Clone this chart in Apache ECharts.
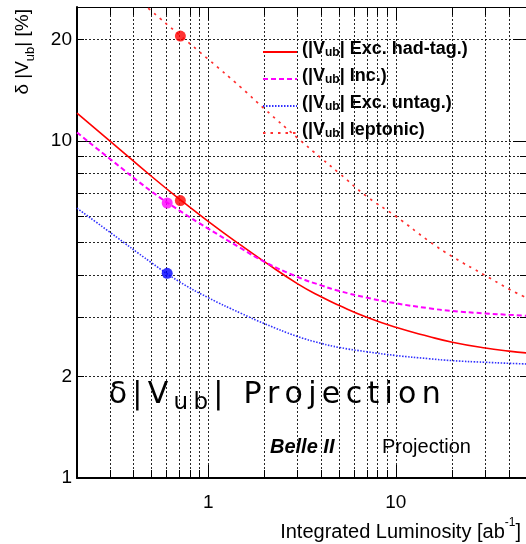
<!DOCTYPE html>
<html>
<head>
<meta charset="utf-8">
<script src="https://cdn.jsdelivr.net/npm/echarts@6/dist/echarts.min.js"></script>
<style>
  html, body { margin: 0; padding: 0; background: #fff; }
  #chart { width: 526px; height: 544px; }
</style>
</head>
<body>
<div id="chart"></div>
<script>
// luminosity points (ab^-1) where the projection curves were read
var lumi = [0.2, 0.3, 0.5, 0.7, 1, 1.5, 2, 3, 4, 5, 7, 10, 15, 20, 30, 40, 50];
var hadTag = [12.1, 10.0, 7.85, 6.74, 5.78, 4.9, 4.38, 3.77, 3.45, 3.25, 3.0, 2.80, 2.63, 2.53, 2.43, 2.38, 2.35];
var inclusive = [10.6, 8.85, 7.08, 6.23, 5.5, 4.8, 4.38, 3.95, 3.73, 3.59, 3.43, 3.30, 3.19, 3.13, 3.08, 3.05, 3.03];
var untagged = [6.32, 5.36, 4.35, 3.83, 3.43, 3.08, 2.87, 2.63, 2.51, 2.44, 2.37, 2.31, 2.26, 2.23, 2.205, 2.19, 2.18];
var lumiLep = [0.45, 0.5, 0.7, 1, 1.5, 2, 3, 4, 5, 7, 10, 15, 20, 30, 40, 50];
var leptonic = [25.7, 24.3, 20.7, 17.5, 14.4, 12.45, 10.2, 8.9, 8.02, 6.85, 5.98, 5.05, 4.54, 3.99, 3.64, 3.42];

// Belle measurements: had-tag, inclusive, untagged, leptonic
var belleLumi = [0.711, 0.605, 0.605, 0.711];
var belleVal = [6.66, 6.55, 4.05, 20.5];

// ticks / grid
var xTicks = [0.3, 0.4, 0.5, 0.6, 0.7, 0.8, 0.9, 1, 2, 3, 4, 5, 6, 7, 8, 9, 10, 20, 30, 40];
var xMajor = [1, 10];
var yTicks = [2, 3, 4, 5, 6, 7, 8, 9, 10, 20];
var yMajorLeft = [10];
var yMajorRight = [10, 20];
var xLabels = [1, 10];
var yLabels = [1, 2, 10, 20];

var FONT = 'Liberation Sans';

function pairs(xs, ys) {
  return xs.map(function (x, i) { return [x, ys[i]]; });
}

// wide letter spacing for the big label: one rich token per character
function spaced(str, style) {
  return str.split('').map(function (ch) { return '{' + style + '|' + ch + '}'; }).join('');
}

function xAx(pos, ticks, len, extra) {
  return Object.assign({
    type: 'log', logBase: 10, min: 0.2, max: 50, position: pos,
    axisLine: { show: false, onZero: false },
    axisTick: { show: true, inside: true, length: len, customValues: ticks, lineStyle: { color: '#000', width: 1 } },
    axisLabel: { show: false },
    splitLine: { show: false }
  }, extra || {});
}
function yAx(pos, ticks, len, extra) {
  return Object.assign({
    type: 'log', logBase: 10, min: 1, max: 25, position: pos,
    axisLine: { show: false, onZero: false },
    axisTick: { show: true, inside: true, length: len, customValues: ticks, lineStyle: { color: '#000', width: 1 } },
    axisLabel: { show: false },
    splitLine: { show: false }
  }, extra || {});
}

var gridLine = { show: true, lineStyle: { color: '#000', width: 1, type: [2, 2], opacity: 0.85 } };

var legendText = {
  had: '(|V{sub|ub}| Exc. had-tag.)',
  inc: '(|V{sub|ub}| Inc.)',
  untag: '(|V{sub|ub}| Exc. untag.)',
  lep: '(|V{sub|ub}| leptonic)'
};

var BIG = 'DejaVu Sans';
var bigStyle = { fontFamily: BIG, fontSize: 30, fill: '#000', lineHeight: 40, padding: [0, 2.65, 0, 2.65] };
var bigSub = { fontFamily: BIG, fontSize: 23, fill: '#000', lineHeight: 16, verticalAlign: 'bottom', padding: [0, 2.65, 0, 2.65] };

var chart = echarts.init(document.getElementById('chart'));
chart.setOption({
  animation: false,
  grid: { left: 77, top: 7, width: 450, height: 471, outerBoundsMode: 'none' },
  xAxis: [
    xAx('bottom', xTicks, 8, {
      axisLine: { show: true, onZero: false, lineStyle: { color: '#000', width: 2 } },
      axisLabel: { show: true, customValues: xLabels, fontSize: 19, color: '#000', fontFamily: FONT, margin: 15 },
      splitLine: gridLine
    }),
    xAx('bottom', xMajor, 13),
    xAx('top', xTicks, 8, { axisLine: { show: true, onZero: false, lineStyle: { color: '#000', width: 1 } } }),
    xAx('top', xMajor, 13)
  ],
  yAxis: [
    yAx('left', yTicks, 7, {
      axisLine: { show: true, onZero: false, lineStyle: { color: '#000', width: 2 } },
      axisLabel: { show: true, customValues: yLabels, fontSize: 19, color: '#000', fontFamily: FONT, margin: 5 },
      splitLine: gridLine
    }),
    yAx('left', yMajorLeft, 14),
    yAx('right', yTicks, 7, { axisLine: { show: true, onZero: false, lineStyle: { color: '#000', width: 1 } } }),
    yAx('right', yMajorRight, 14)
  ],
  legend: {
    data: ['had', 'inc', 'untag', 'lep'],
    orient: 'vertical',
    left: 262, top: 39, padding: 0,
    itemWidth: 34, itemHeight: 10, itemGap: 1,
    selectedMode: false,
    itemStyle: { opacity: 0, borderWidth: 0 },
    formatter: function (name) { return legendText[name]; },
    textStyle: {
      fontFamily: FONT, fontWeight: 'bold', fontSize: 18, color: '#000', lineHeight: 20,
      padding: [0, 0, 6, 0],
      rich: {
        sub: { fontFamily: FONT, fontWeight: 'bold', fontSize: 12, color: '#000', lineHeight: 2, verticalAlign: 'bottom' }
      }
    }
  },
  series: [
    { name: 'had', type: 'line', data: pairs(lumi, hadTag), symbol: 'none', smooth: true,
      lineStyle: { color: '#ff0000', width: 1.6 }, itemStyle: { color: '#ff0000' } },
    { name: 'inc', type: 'line', data: pairs(lumi, inclusive), symbol: 'none', smooth: true,
      lineStyle: { color: '#ff00ff', width: 2, type: [5, 3] }, itemStyle: { color: '#ff00ff' } },
    { name: 'untag', type: 'line', data: pairs(lumi, untagged), symbol: 'none', smooth: true,
      lineStyle: { color: '#3030ff', width: 1.6, type: [1.5, 1.5] }, itemStyle: { color: '#3030ff' } },
    { name: 'lep', type: 'line', data: pairs(lumiLep, leptonic), symbol: 'none', smooth: true,
      lineStyle: { color: '#ff3030', width: 1.7, type: [2.5, 5] }, itemStyle: { color: '#ff3030' } },
    { type: 'scatter', data: [[belleLumi[0], belleVal[0]]], symbolSize: 11, itemStyle: { color: '#ff0000' }, z: 5 },
    { type: 'scatter', data: [[belleLumi[1], belleVal[1]]], symbolSize: 11, itemStyle: { color: '#ff00ff' }, z: 5 },
    { type: 'scatter', data: [[belleLumi[2], belleVal[2]]], symbolSize: 11, itemStyle: { color: '#0000ff' }, z: 5 },
    { type: 'scatter', data: [[belleLumi[3], belleVal[3]]], symbolSize: 11, itemStyle: { color: '#ff0000' }, z: 5 }
  ],
  graphic: [
    { // y axis title, rotated
      type: 'text', x: 23, y: 9, rotation: Math.PI / 2,
      style: {
        text: 'δ |V{s|ub}| [%]', align: 'right', verticalAlign: 'middle',
        fontFamily: FONT, fontSize: 19, fill: '#000', lineHeight: 28,
        rich: { s: { fontFamily: FONT, fontSize: 13, fill: '#000', lineHeight: 6, verticalAlign: 'bottom' } }
      }
    },
    { // x axis title
      type: 'text', x: 521, y: 532,
      style: {
        text: 'Integrated Luminosity [ab{s|-1}]', align: 'right', verticalAlign: 'middle',
        fontFamily: FONT, fontSize: 20, fill: '#000', lineHeight: 30,
        rich: { s: { fontFamily: FONT, fontSize: 12, fill: '#000', lineHeight: 6, verticalAlign: 'top' } }
      }
    },
    { // big projection label
      type: 'text', x: 106, y: 395,
      style: {
        text: spaced('δ|V', 'b') + spaced('ub', 's') + spaced('| Projection', 'b'),
        align: 'left', verticalAlign: 'middle',
        fontFamily: BIG, fontSize: 30, fill: '#000', lineHeight: 40,
        rich: { b: bigStyle, s: bigSub }
      }
    },
    {
      type: 'text', x: 270, y: 447,
      style: { text: 'Belle II', verticalAlign: 'middle', fontFamily: FONT, fontSize: 20, fontWeight: 'bold', fontStyle: 'italic', fill: '#000' }
    },
    {
      type: 'text', x: 382, y: 447,
      style: { text: 'Projection', verticalAlign: 'middle', fontFamily: FONT, fontSize: 20, fill: '#000' }
    }
  ]
});
</script>
</body>
</html>
